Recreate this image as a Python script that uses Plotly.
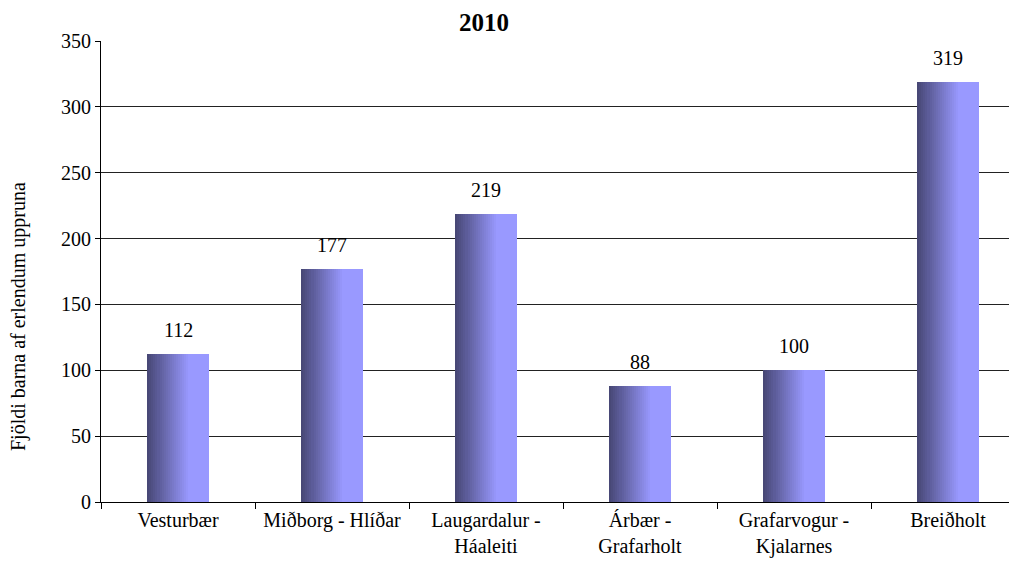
import plotly.graph_objects as go

categories = ["Vesturbær", "Miðborg - Hlíðar", "Laugardalur -<br>Háaleiti",
              "Árbær -<br>Grafarholt", "Grafarvogur -<br>Kjalarnes", "Breiðholt"]
values = [112, 177, 219, 88, 100, 319]
y_ticks = [0, 50, 100, 150, 200, 250, 300, 350]
title_text = "2010"
y_title = "Fjöldi barna af erlendum uppruna"

FONT = "Times New Roman, serif"
dark = (0x46, 0x46, 0x73)
light = (0x99, 0x99, 0xFF)
N = 30
bar_w = 0.40

L, T, B = 93, 33, 69
PW = 1017 - L
PH = 563 - T - B

fig = go.Figure()
for i in range(N):
    t = (i + 0.5) / N
    f = min(t / 0.68, 1.0)
    c = tuple(round(dark[k] + (light[k] - dark[k]) * f) for k in range(3))
    fig.add_trace(go.Bar(
        x=categories, y=values,
        width=bar_w / N * 1.05,
        offset=-bar_w / 2 + i * bar_w / N,
        marker=dict(color="rgb(%d,%d,%d)" % c, line=dict(width=0)),
        hoverinfo="skip", showlegend=False,
    ))

for cat, v in zip(categories, values):
    fig.add_annotation(x=cat, y=v, text=str(v), showarrow=False,
                       yanchor="bottom", yshift=11,
                       font=dict(family=FONT, size=20, color="black"))

fig.add_annotation(xref="paper", yref="paper", x=(10 - L) / PW, y=1 - (309 - T) / PH,
                   text=y_title, textangle=-90, showarrow=False,
                   xanchor="center", yanchor="middle",
                   font=dict(family=FONT, size=20, color="black"))

fig.update_layout(
    width=1017, height=563,
    margin=dict(l=L, r=0, t=T, b=B, autoexpand=False),
    paper_bgcolor="white", plot_bgcolor="white",
    barmode="overlay", bargap=0,
    title=dict(text="<b>" + title_text + "</b>", x=476 / 1017, xanchor="center",
               y=1 - 14 / 563, yanchor="middle",
               font=dict(family=FONT, size=25, color="black")),
    font=dict(family=FONT, size=20, color="black"),
)
fig.update_xaxes(
    type="category", range=[-0.5, 5.5], automargin=False,
    showline=True, linecolor="black", linewidth=1,
    ticks="outside", tickson="boundaries", ticklen=6, tickcolor="black",
    showgrid=False, tickfont=dict(family=FONT, size=20, color="black"),
)
fig.update_yaxes(
    range=[0, 350], tickvals=y_ticks, automargin=False,
    showline=True, linecolor="black", linewidth=1,
    ticks="outside", ticklen=5, tickcolor="black",
    showgrid=True, gridcolor="#222222", gridwidth=1,
    zeroline=False,
    tickfont=dict(family=FONT, size=20, color="black"),
)
fig.write_html("out.html")
